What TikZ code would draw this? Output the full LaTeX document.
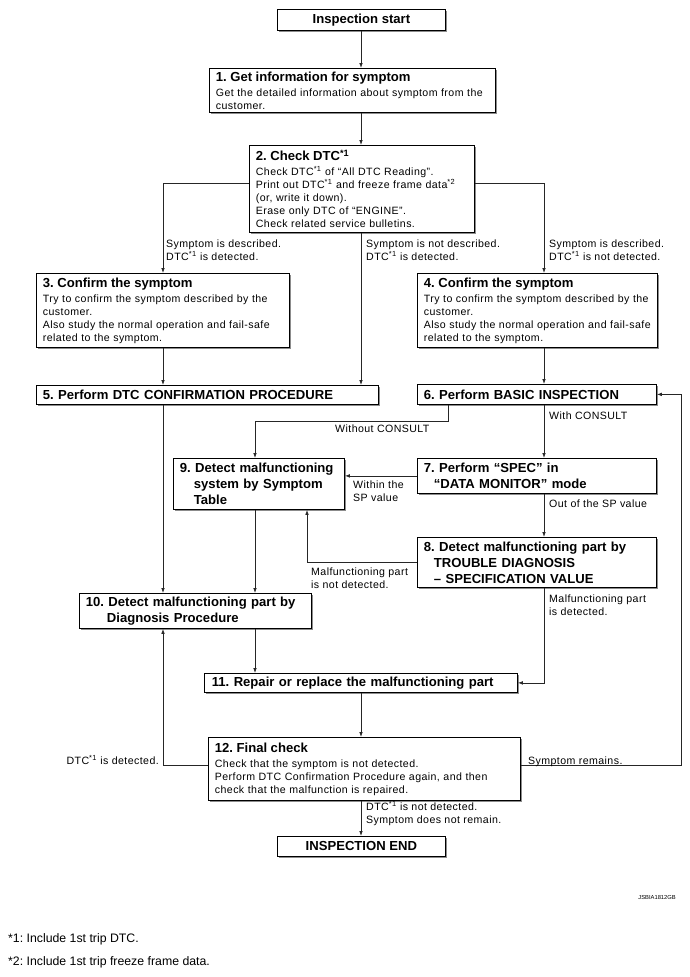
\documentclass[tikz,border=0pt]{standalone}
\usepackage{fontspec}
\setmainfont{Liberation Sans}
\newfontfamily\bodyf[LetterSpace=4]{Liberation Sans}
\usetikzlibrary{arrows.meta,shadows}
\newcommand\supx[1]{\textsuperscript{#1}}
\newcommand\bodysz{\bodyf\fontsize{10.6}{13}\selectfont\frenchspacing}
\newcommand\titsz{\rmfamily\fontsize{13.1}{16}\selectfont\bfseries\frenchspacing}
\begin{document}
\frenchspacing
\begin{tikzpicture}[x=1pt,y=-1pt,
  box/.style={draw=black, line width=0.8pt, fill=white,
    drop shadow={shadow xshift=1.1pt, shadow yshift=-1.1pt, fill=black!45, opacity=1},
    inner xsep=6.5pt, inner ysep=1pt, align=left, font=\bodysz, anchor=north west},
  tl/.style={box, font=\titsz},
  tbox/.style={box, align=center, font=\titsz},
  lab/.style={font=\bodysz, align=left, inner sep=0pt, anchor=base west},
  ln/.style={line width=0.8pt, draw=black!85},
  arr/.style={ln, -{Latex[length=5pt,width=3.6pt]}}]

\useasboundingbox (0,0) rectangle (690,977);

% column / row helpers
\coordinate (cM) at (361,0);
\coordinate (cL) at (163,0);
\coordinate (cR) at (544,0);
\coordinate (c9) at (255,0);
\coordinate (cN) at (307,0);
\coordinate (cW) at (448,0);
\coordinate (cF) at (681,0);
\coordinate (yB) at (0,183);
\coordinate (yW) at (0,421);
\coordinate (y12) at (0,765);

% boxes
\node[tbox, minimum width=168, minimum height=21] (start) at (277,9) {Inspection start};

\node[box, minimum width=286, minimum height=44, text width=273] (b1) at (209,68)
 {{\titsz\mbox{1. Get information for symptom}}\\[2pt]\mbox{Get the detailed information about symptom from the}\\\mbox{customer.}};

\node[box, minimum width=225, minimum height=87, text width=212] (b2) at (249,145)
 {{\titsz\mbox{2. Check DTC\supx{*1}}}\\[2pt]\mbox{Check DTC\supx{*1} of “All DTC Reading”.}\\\mbox{Print out DTC\supx{*1} and freeze frame data\supx{*2}}\\\mbox{(or, write it down).}\\\mbox{Erase only DTC of “ENGINE”.}\\\mbox{Check related service bulletins.}};

\node[box, minimum width=253, minimum height=74, text width=240] (b3) at (36,273)
 {{\titsz\mbox{3. Confirm the symptom}}\\[2pt]\mbox{Try to confirm the symptom described by the}\\\mbox{customer.}\\\mbox{Also study the normal operation and fail-safe}\\\mbox{related to the symptom.}};

\node[box, minimum width=240, minimum height=74, text width=227] (b4) at (417,273)
 {{\titsz\mbox{4. Confirm the symptom}}\\[2pt]\mbox{Try to confirm the symptom described by the}\\\mbox{customer.}\\\mbox{Also study the normal operation and fail-safe}\\\mbox{related to the symptom.}};

\node[tl, minimum width=342, minimum height=19, text width=329] (b5) at (36,385)
 {\mbox{5. Perform DTC CONFIRMATION PROCEDURE}};

\node[tl, minimum width=239, minimum height=20, text width=226] (b6) at (417,384)
 {\mbox{6. Perform BASIC INSPECTION}};

\node[tl, minimum width=239, minimum height=35, text width=226] (b7) at (417,458)
 {\mbox{7. Perform “SPEC” in}\\\mbox{\hspace*{10pt}“DATA MONITOR” mode}};

\node[tl, minimum width=239, minimum height=50, text width=226] (b8) at (417,537)
 {\mbox{8. Detect malfunctioning part by}\\\mbox{\hspace*{10pt}TROUBLE DIAGNOSIS}\\\mbox{\hspace*{10pt}– SPECIFICATION VALUE}};

\node[tl, minimum width=171, minimum height=51, text width=158] (b9) at (173,458)
 {\mbox{9. Detect malfunctioning}\\\mbox{\hspace*{14pt}system by Symptom}\\\mbox{\hspace*{14pt}Table}};

\node[tl, minimum width=232, minimum height=35, text width=219] (b10) at (79,593)
 {\mbox{10. Detect malfunctioning part by}\\\mbox{\hspace*{21pt}Diagnosis Procedure}};

\node[tl, minimum width=313, minimum height=19, text width=298, inner xsep=7.5pt] (b11) at (204,673)
 {\mbox{11. Repair or replace the malfunctioning part}};

\node[box, minimum width=312, minimum height=63, text width=299] (b12) at (208,737)
 {{\titsz\mbox{12. Final check}}\\[2pt]\mbox{Check that the symptom is not detected.}\\\mbox{Perform DTC Confirmation Procedure again, and then}\\\mbox{check that the malfunction is repaired.}};

\node[tbox, minimum width=168, minimum height=20] (end) at (277,836) {INSPECTION END};

% connectors
\draw[arr] (cM |- start.south) -- (cM |- b1.north);
\draw[arr] (cM |- b1.south) -- (cM |- b2.north);
\draw[arr] (b2.west |- yB) -| (cL |- b3.north);
\draw[arr] (b2.east |- yB) -| (cR |- b4.north);
\draw[arr] (cM |- b2.south) -- (cM |- b5.north);
\draw[arr] (cL |- b3.south) -- (cL |- b5.north);
\draw[arr] (cR |- b4.south) -- (cR |- b6.north);
\draw[arr] (cW |- b6.south) -- (cW |- yW) -| (c9 |- b9.north);
\draw[arr] (cR |- b6.south) -- (cR |- b7.north);
\draw[arr] (b7.west) -- (b9.east |- b7.west);
\draw[arr] (cR |- b7.south) -- (cR |- b8.north);
\draw[arr] (b8.west) -| (cN |- b9.south);
\draw[arr] (cR |- b8.south) |- (b11.east);
\draw[arr] (cL |- b5.south) -- (cL |- b10.north);
\draw[arr] (c9 |- b9.south) -- (c9 |- b10.north);
\draw[arr] (c9 |- b10.south) -- (c9 |- b11.north);
\draw[arr] (cM |- b11.south) -- (cM |- b12.north);
\draw[arr] (b12.west |- y12) -| (cL |- b10.south);
\draw[arr] (b12.east |- y12) -- (cF |- y12) |- (b6.east);
\draw[arr] (cM |- b12.south) -- (cM |- end.north);

% labels (base anchor = baseline of last line)
\node[lab] (l1) at (166,260) {Symptom is described.\\DTC\supx{*1} is detected.};
\node[lab] (l2) at (366,260) {Symptom is not described.\\DTC\supx{*1} is detected.};
\node[lab] (l3) at (549,260) {Symptom is described.\\DTC\supx{*1} is not detected.};
\node[lab] (l4) at (549,419) {With CONSULT};
\node[lab] (l5) at (335,432) {Without CONSULT};
\node[lab] (l6) at (353,501) {Within the\\SP value};
\node[lab] (l7) at (549,507) {Out of the SP value};
\node[lab] (l8) at (311,588) {Malfunctioning part\\is not detected.};
\node[lab] (l9) at (549,615) {Malfunctioning part\\is detected.};
\node[lab, anchor=base east] (l10) at (159,764) {DTC\supx{*1} is detected.};
\node[lab] (l11) at (528,764) {Symptom remains.};
\node[lab] (l12) at (366,823) {DTC\supx{*1} is not detected.\\Symptom does not remain.};

\node[inner sep=0pt, anchor=base east, font=\fontsize{5.8}{7}\selectfont] (code) at (676,899.5) {JSBIA1812GB};
\node[inner sep=0pt, anchor=base west, font=\fontsize{12.3}{14}\selectfont] (fn1) at (8,942) {*1: Include 1st trip DTC.};
\node[inner sep=0pt, anchor=base west, font=\fontsize{12.3}{14}\selectfont] (fn2) at (8,965) {*2: Include 1st trip freeze frame data.};
\end{tikzpicture}
\end{document}
